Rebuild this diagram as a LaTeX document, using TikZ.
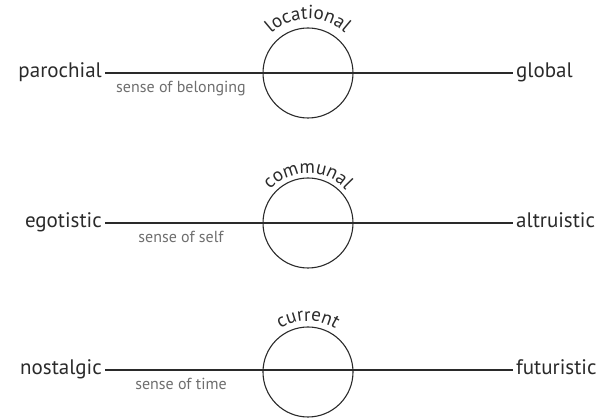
\documentclass[tikz,border=0pt]{standalone}
\usepackage{fontspec}
\setmainfont{PT Sans}
\usetikzlibrary{decorations.text}
\definecolor{ink}{HTML}{2A2A2A}
\definecolor{sub}{HTML}{6E6E6E}
\tikzset{
  axis/.style={draw=ink, line width=1.1pt},
  ring/.style={draw=ink, line width=1.1pt, circle, minimum size=90pt, inner sep=0pt},
  pole/.style={text=ink, font=\fontsize{21}{24}\selectfont, inner sep=0pt},
  sublabel/.style={text=sub, font=\fontsize{16}{18}\selectfont, inner sep=0pt, anchor=base},
}
\newcommand{\arcfont}{\fontsize{19}{21}\selectfont\color{ink}}
\begin{document}
\begin{tikzpicture}[x=1pt,y=1pt]
\useasboundingbox (0,0) rectangle (606,-419);
% row 1
\coordinate (c1) at (308,-73);
\node[ring] (r1) at (c1) {};
\coordinate (a1) at (105,-73);
\coordinate (b1) at (513,-73);
\draw[axis] (a1) -- (b1);
\node[pole, anchor=base east] (p1) at ([xshift=-3pt,yshift=-5pt]a1) {parochial};
\node[pole, anchor=base west] (g1) at ([xshift=3pt,yshift=-5pt]b1) {global};
\node[sublabel] (s1) at (181,-93) {sense of belonging};
\path[decorate, decoration={text along path, text align=center, text={|\arcfont|locational}}]
  ([shift={(170:54)}]c1) arc[start angle=170, end angle=10, radius=54];
% row 2
\coordinate (c2) at (308,-223);
\node[ring] (r2) at (c2) {};
\coordinate (a2) at (105,-223);
\coordinate (b2) at (513,-223);
\draw[axis] (a2) -- (b2);
\node[pole, anchor=base east] (p2) at ([xshift=-3pt,yshift=-5pt]a2) {egotistic};
\node[pole, anchor=base west] (g2) at ([xshift=3pt,yshift=-5pt]b2) {altruistic};
\node[sublabel] (s2) at (181,-243) {sense of self};
\path[decorate, decoration={text along path, text align=center, text={|\arcfont|communal}}]
  ([shift={(170:50)}]c2) arc[start angle=170, end angle=10, radius=50];
% row 3
\coordinate (c3) at (308,-372);
\node[ring] (r3) at (c3) {};
\coordinate (a3) at (105,-370);
\coordinate (b3) at (513,-370);
\draw[axis] (a3) -- (b3);
\node[pole, anchor=base east] (p3) at ([xshift=-3pt,yshift=-5pt]a3) {nostalgic};
\node[pole, anchor=base west] (g3) at ([xshift=3pt,yshift=-5pt]b3) {futuristic};
\node[sublabel] (s3) at (181,-390) {sense of time};
\path[decorate, decoration={text along path, text align=center, text={|\arcfont|current}}]
  ([shift={(170:51)}]c3) arc[start angle=170, end angle=10, radius=51];
\end{tikzpicture}
\end{document}
